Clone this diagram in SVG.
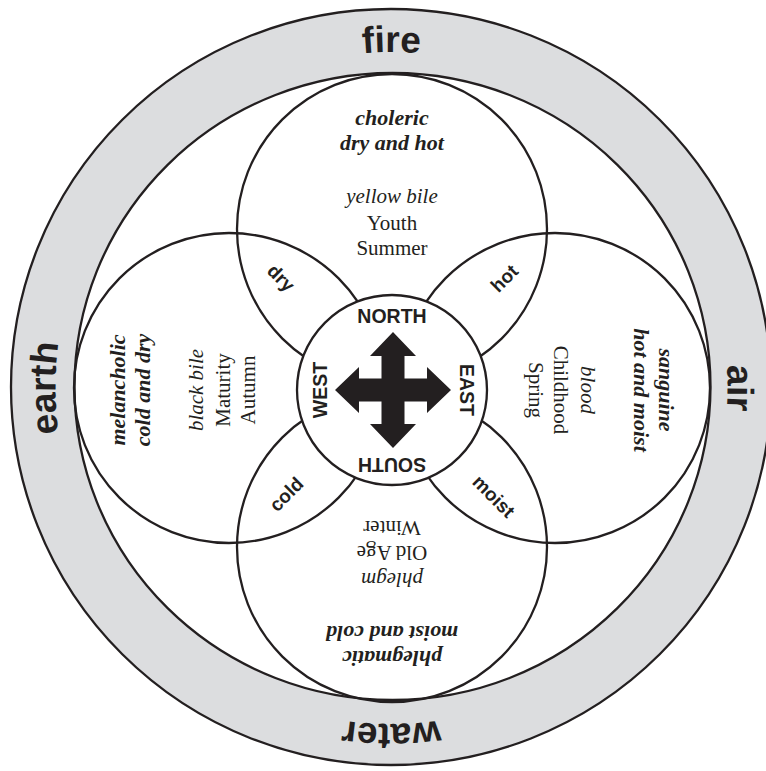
<svg xmlns="http://www.w3.org/2000/svg" width="766" height="771" viewBox="0 0 766 771">
<style>
.ln{fill:none;stroke:#231f20;stroke-width:2.3}
.ring{font-family:"Liberation Sans",Arial,sans-serif;font-weight:bold;font-size:37px;fill:#231f20;text-anchor:middle}
.sm{font-family:"Liberation Sans",Arial,sans-serif;font-weight:bold;font-size:19px;fill:#231f20;text-anchor:middle}
.dir{font-family:"Liberation Sans",Arial,sans-serif;font-weight:bold;font-size:19.5px;fill:#231f20;text-anchor:middle}
.t{font-family:"Liberation Serif","Times New Roman",serif;font-size:21px;fill:#231f20;text-anchor:middle}
.bi{font-weight:bold;font-style:italic;font-size:22px}
.i{font-style:italic}
</style>
<defs>
<path id="ringPath" d="M153.9,625.6 A336,336 0 1 1 629.1,150.4 A336,336 0 1 1 153.9,625.6"/>
</defs>
<rect width="766" height="771" fill="#ffffff"/>
<g id="element-ring">
<ellipse cx="391" cy="387" rx="380" ry="378" fill="#dcdddf" stroke="#231f20" stroke-width="2.3"/>
<ellipse cx="392.5" cy="386.5" rx="318" ry="313.5" fill="#ffffff" stroke="#231f20" stroke-width="2.3"/>
<text class="ring"><textPath href="#ringPath" startOffset="12.5%">earth</textPath></text>
<text class="ring"><textPath href="#ringPath" startOffset="37.5%">fire</textPath></text>
<text class="ring"><textPath href="#ringPath" startOffset="62.5%">air</textPath></text>
<text class="ring"><textPath href="#ringPath" startOffset="87.5%">water</textPath></text>
</g>
<g id="petal-choleric">
<circle class="ln" cx="392" cy="229" r="155"/>
<g transform="translate(392,229)">
<text class="t bi" y="-104">choleric</text>
<text class="t bi" y="-79">dry and hot</text>
<text class="t i" y="-26">yellow bile</text>
<text class="t" y="1">Youth</text>
<text class="t" y="26">Summer</text>
</g>
</g>
<g id="petal-melancholic">
<circle class="ln" cx="229" cy="388" r="155"/>
<g transform="translate(229,390) rotate(-90)">
<text class="t bi" y="-104">melancholic</text>
<text class="t bi" y="-79">cold and dry</text>
<text class="t i" y="-26">black bile</text>
<text class="t" y="1">Maturity</text>
<text class="t" y="26">Autumn</text>
</g>
</g>
<g id="petal-sanguine">
<circle class="ln" cx="555" cy="388" r="155"/>
<g transform="translate(555,390) rotate(90)">
<text class="t bi" y="-104">sanguine</text>
<text class="t bi" y="-79">hot and moist</text>
<text class="t i" y="-26">blood</text>
<text class="t" y="1">Childhood</text>
<text class="t" y="26">Spring</text>
</g>
</g>
<g id="petal-phlegmatic">
<circle class="ln" cx="392" cy="547" r="155"/>
<g transform="translate(392,547) rotate(180)">
<text class="t bi" y="-104">phlegmatic</text>
<text class="t bi" y="-79">moist and cold</text>
<text class="t i" y="-26">phlegm</text>
<text class="t" y="1">Old Age</text>
<text class="t" y="26">Winter</text>
</g>
</g>
<g id="qualities">
<text class="sm" transform="translate(280,279) rotate(45)" y="5">dry</text>
<text class="sm" transform="translate(504,278) rotate(-45)" y="7">hot</text>
<text class="sm" transform="translate(286,494) rotate(-45)" y="7">cold</text>
<text class="sm" transform="translate(494,496) rotate(45)" y="7">moist</text>
</g>
<g id="compass">
<circle cx="392" cy="390" r="95" fill="#ffffff" stroke="#231f20" stroke-width="2.3"/>
<path fill="#231f20" transform="translate(393,390)" d="M0,-58 L23,-34 L11.5,-34 L11.5,-11.5 L34,-11.5 L34,-23 L58,0 L34,23 L34,11.5 L11.5,11.5 L11.5,34 L23,34 L0,58 L-23,34 L-11.5,34 L-11.5,11.5 L-34,11.5 L-34,23 L-58,0 L-34,-23 L-34,-11.5 L-11.5,-11.5 L-11.5,-34 L-23,-34 Z"/>
<text class="dir" x="392" y="323">NORTH</text>
<text class="dir" x="392" y="322" transform="rotate(180 392 390)">SOUTH</text>
<text class="dir" x="392" y="325" transform="rotate(-90 392 390)">WEST</text>
<text class="dir" x="392" y="322" transform="rotate(90 392 390)">EAST</text>
</g>
<g id="connectors"/>
</svg>
